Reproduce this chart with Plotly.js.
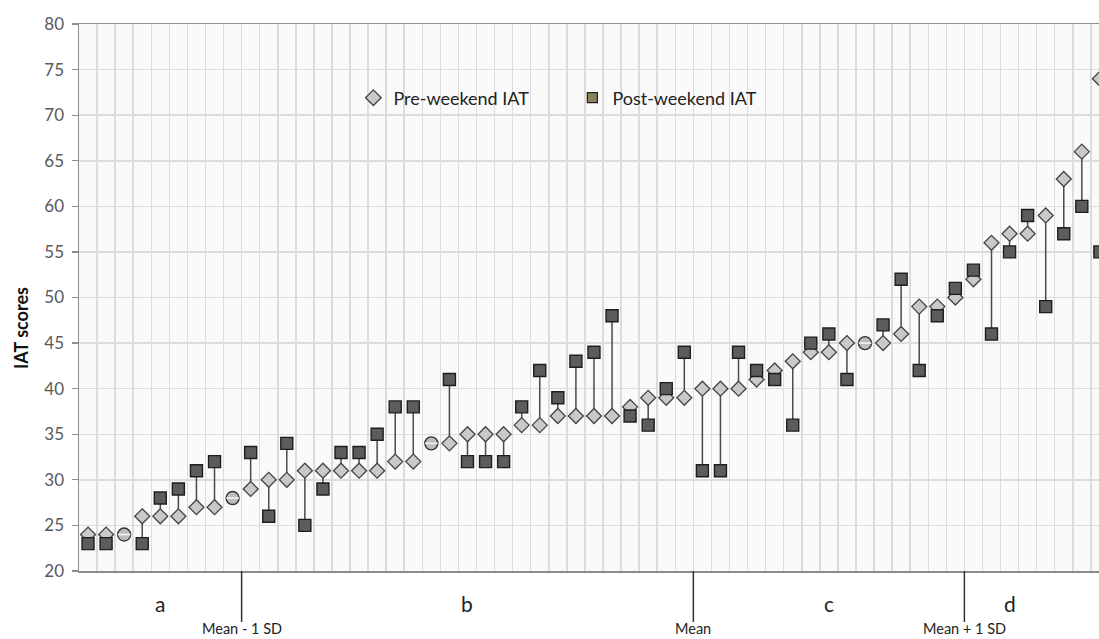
<!DOCTYPE html>
<html>
<head>
<meta charset="utf-8">
<script src="https://cdn.plot.ly/plotly-3.0.1.min.js"></script>
<style>
html,body{margin:0;padding:0;background:#fff;}
#chart{width:1099px;height:639px;}
</style>
</head>
<body>
<div id="chart"></div>
<script>
// ---- data ----
const participants = Array.from({length: 57}, (_, i) => i); // participant order (sorted by pre-weekend score)
const preIAT  = [24,24,null,26,26,26,27,27,null,29,30,30,31,31,31,31,31,32,32,null,34,35,35,35,36,36,37,37,37,37,38,39,39,39,40,40,40,41,42,43,44,44,45,null,45,46,49,49,50,52,56,57,57,59,63,66,74];
const postIAT = [23,23,null,23,28,29,31,32,null,33,26,34,25,29,33,33,35,38,38,null,41,32,32,32,38,42,39,43,44,48,37,36,40,44,31,31,44,42,41,36,45,46,41,null,47,52,42,48,51,53,46,55,59,49,57,60,55];
const sameIAT = [null,null,24,null,null,null,null,null,28,null,null,null,null,null,null,null,null,null,null,34,null,null,null,null,null,null,null,null,null,null,null,null,null,null,null,null,null,null,null,null,null,null,null,45,null,null,null,null,null,null,null,null,null,null,null,null,null];
const groupSplits = [8.5, 33.5, 48.5];
const splitLabels = ["Mean - 1 SD", "Mean", "Mean + 1 SD"];
const groupCenters = [4, 21, 41, 51];
const groupLabels = ["a", "b", "c", "d"];

// connectors between pre and post scores
const cx = [], cy = [];
participants.forEach((p, i) => {
  if (preIAT[i] != null && postIAT[i] != null) {
    cx.push(p, p, null); cy.push(preIAT[i], postIAT[i], null);
  }
});

const FONT = "Lato, 'Open Sans', sans-serif";
const plotTop = 24, plotBottom = 571, plotH = plotBottom - plotTop;
const py = (pix) => (plotBottom - pix) / plotH; // pixel row -> paper y

const traces = [
  {x: cx, y: cy, mode: 'lines', line: {color: '#4a4a4a', width: 1.5}, showlegend: false, hoverinfo: 'skip'},
  {x: participants, y: preIAT, mode: 'markers', name: 'Pre-weekend IAT', showlegend: false,
   marker: {symbol: 'diamond', size: 11.5, color: '#c9c9c9', line: {color: '#444', width: 1.3}}},
  {x: participants, y: postIAT, mode: 'markers', name: 'Post-weekend IAT', showlegend: false,
   marker: {symbol: 'square', size: 12, color: '#5c5c5c', line: {color: '#1e1e1e', width: 1.4}}},
  {x: participants, y: sameIAT, mode: 'markers', name: 'Pre = Post', showlegend: false,
   marker: {symbol: 'circle', size: 13, color: '#bdbdbd', line: {color: '#333', width: 1.4}}},
  {x: participants, y: sameIAT, mode: 'markers', showlegend: false, hoverinfo: 'skip',
   marker: {symbol: 'line-ew', size: 9, line: {color: '#f4f4f4', width: 1.6}}},
  // legend entries
  {x: [null], y: [null], mode: 'markers', name: 'Pre-weekend IAT',
   marker: {symbol: 'diamond', size: 12, color: '#c9c9c9', line: {color: '#444', width: 1.3}}},
  {x: [null], y: [null], mode: 'markers', name: 'Post-weekend IAT',
   marker: {symbol: 'square', size: 10, color: '#8c8259', line: {color: '#222', width: 1.3}}}
];

const shapes = groupSplits.map(s => ({
  type: 'line', xref: 'x', yref: 'paper', x0: s, x1: s, y0: 0, y1: py(622),
  line: {color: '#333', width: 1.5}
}));

const annotations = [];
groupCenters.forEach((c, i) => annotations.push({
  x: c, y: py(603), xref: 'x', yref: 'paper', text: groupLabels[i], showarrow: false,
  font: {family: FONT, size: 21, color: '#222'}, xanchor: 'center', yanchor: 'middle'
}));
groupSplits.forEach((s, i) => annotations.push({
  x: s, y: py(638), xref: 'x', yref: 'paper', text: splitLabels[i], showarrow: false,
  font: {family: FONT, size: 14.5, color: '#222'}, xanchor: 'center', yanchor: 'bottom', borderpad: 0
}));
annotations.push({
  x: (21 - 79) / 1020, y: py(328), xref: 'paper', yref: 'paper', text: '<b>IAT scores</b>',
  showarrow: false, textangle: -90, font: {family: FONT, size: 18, color: '#111'},
  xanchor: 'center', yanchor: 'middle'
});

const layout = {
  width: 1099, height: 639,
  margin: {l: 79, r: 0, t: plotTop, b: 639 - plotBottom, pad: 0},
  paper_bgcolor: '#ffffff', plot_bgcolor: '#fafafa',
  showlegend: true,
  legend: {orientation: 'h', x: 0.269, y: py(98), xanchor: 'left', yanchor: 'middle',
           bgcolor: 'rgba(0,0,0,0)', font: {family: FONT, size: 18, color: '#222'},
           entrywidth: 174, entrywidthmode: 'pixels'},
  xaxis: {range: [-0.5, 55.95], tick0: -0.5, dtick: 1, tickmode: 'linear',
          showticklabels: false, ticks: '', showgrid: true, gridcolor: '#dcdcdc', gridwidth: 1.5,
          zeroline: false, showline: true, linecolor: '#8c8c8c', linewidth: 1.5, mirror: true},
  yaxis: {range: [20, 80], dtick: 5, tick0: 20, showgrid: true, gridcolor: '#dcdcdc', gridwidth: 1.5,
          zeroline: false, showline: true, linecolor: '#8c8c8c', linewidth: 1.5,
          ticks: 'outside', ticklen: 6, tickcolor: '#8c8c8c', tickwidth: 1.3, ticklabelstandoff: 4,
          tickfont: {family: FONT, size: 17, color: '#595959'}},
  shapes: shapes,
  annotations: annotations
};

Plotly.newPlot('chart', traces, layout, {displayModeBar: false, staticPlot: true});
</script>
</body>
</html>
